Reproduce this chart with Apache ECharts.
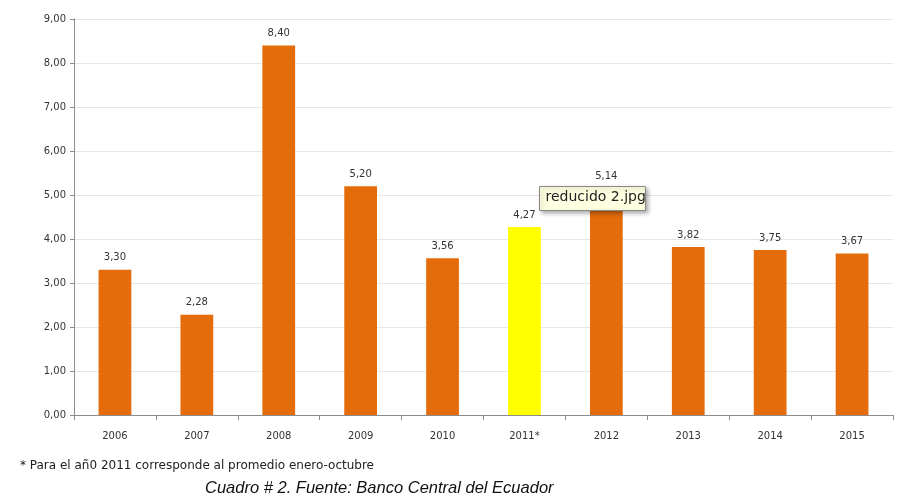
<!DOCTYPE html>
<html><head><meta charset="utf-8">
<script src="https://cdn.jsdelivr.net/npm/echarts@6/dist/echarts.min.js"></script>
<style>html,body{margin:0;padding:0;background:#fff}#c{width:900px;height:499px}</style>
</head><body><div id="c"></div>
<script>
const categories = ['2006','2007','2008','2009','2010','2011*','2012','2013','2014','2015'];
const values = [3.30, 2.28, 8.40, 5.20, 3.56, 4.27, 5.14, 3.82, 3.75, 3.67];
const highlightCategory = '2011*';
const yTicks = [0,1,2,3,4,5,6,7,8,9];
const footnote = '* Para el añ0 2011 corresponde al promedio enero-octubre';
const caption = 'Cuadro # 2. Fuente: Banco Central del Ecuador';
const popupText = 'reducido 2.jpg';

const fmt = v => v.toFixed(2).replace('.', ',');
const chart = echarts.init(document.getElementById('c'));
chart.setOption({
  backgroundColor: '#ffffff',
  animation: false,
  grid: {left: 74, right: 7, top: 19, bottom: 84},
  xAxis: {
    type: 'category', data: categories,
    axisLine: {lineStyle: {color: '#8c8c8c'}},
    axisTick: {show: true, length: 5, lineStyle: {color: '#8c8c8c'}},
    axisLabel: {color: '#333', fontSize: 10, fontFamily: 'DejaVu Sans', margin: 16}
  },
  yAxis: {
    type: 'value', min: yTicks[0], max: yTicks[yTicks.length-1], interval: 1,
    axisLine: {show: true, lineStyle: {color: '#8c8c8c'}},
    axisTick: {show: true, length: 4, lineStyle: {color: '#8c8c8c'}},
    axisLabel: {color: '#333', fontSize: 10, fontFamily: 'DejaVu Sans', margin: 8, formatter: v => fmt(v)},
    splitLine: {lineStyle: {color: '#e6e6e6'}}
  },
  series: [{
    type: 'bar', barWidth: '40%',
    data: values.map((v, i) => ({
      value: v,
      itemStyle: {color: categories[i] === highlightCategory ? '#ffff00' : '#e46c0a'}
    })),
    label: {show: true, position: 'top', distance: 7, color: '#333', fontSize: 10,
      fontFamily: 'DejaVu Sans', formatter: p => fmt(p.value)}
  }],
  graphic: [
    {type: 'text', left: 20, top: 460, style: {text: footnote, fill: '#222', font: '12px "DejaVu Sans"'}},
    {type: 'text', left: 205, top: 480, style: {text: caption, fill: '#111', font: 'italic 16.5px "Liberation Sans"'}},
    {type: 'group', left: 539, top: 186, z: 100, children: [
      {type: 'rect', z: 100, shape: {x: 0, y: 0, width: 106, height: 24},
       style: {fill: '#ffffe1', stroke: '#888', lineWidth: 1, shadowBlur: 4, shadowOffsetX: 2, shadowOffsetY: 2, shadowColor: 'rgba(0,0,0,0.3)'}},
      {type: 'text', z: 101, x: 6, y: 4, style: {text: popupText, fill: '#222', font: '14px "DejaVu Sans"'}}
    ]}
  ]
});
</script></body></html>
